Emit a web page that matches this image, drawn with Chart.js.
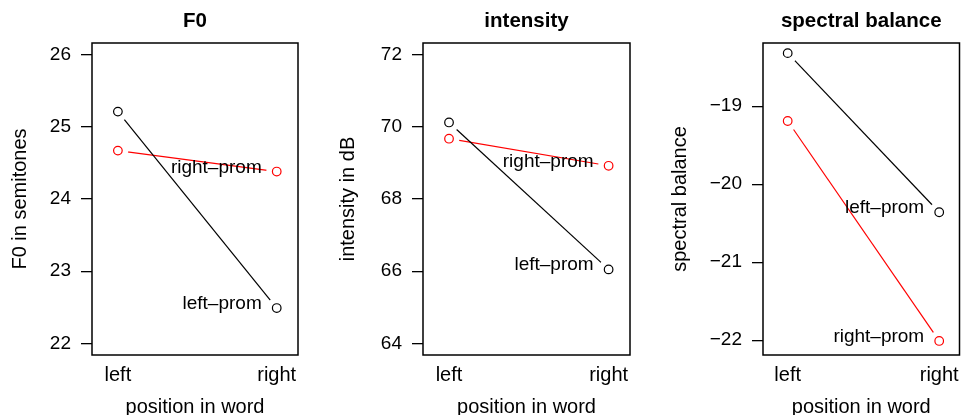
<!DOCTYPE html>
<html>
<head>
<meta charset="utf-8">
<script src="https://cdn.jsdelivr.net/npm/chart.js@4.4.1/dist/chart.umd.min.js"></script>
<style>
  html, body { margin: 0; padding: 0; background: #fff; overflow: hidden; width: 970px; height: 415px; }
  canvas { position: absolute; top: 0; }
</style>
</head>
<body>
<canvas id="f0" width="323" height="430" style="left:0px"></canvas>
<canvas id="intensity" width="324" height="430" style="left:323px"></canvas>
<canvas id="spectral" width="323" height="430" style="left:647px"></canvas>
<script>
// values
const positions = ['left', 'right'];
const groups = ['left\u2013prom', 'right\u2013prom'];
const groupColors = ['#000000', '#ff0000'];

const f0LeftProm = [25.21, 22.49];
const f0RightProm = [24.67, 24.38];
const intLeftProm = [70.12, 66.05];
const intRightProm = [69.67, 68.92];
const sbLeftProm = [-18.32, -20.36];
const sbRightProm = [-19.19, -22.01];

const f0Ticks = [22, 23, 24, 25, 26];
const intTicks = [64, 66, 68, 70, 72];
const sbTicks = [-22, -21, -20, -19];

Chart.defaults.font.family = "'Liberation Sans', Arial, sans-serif";
Chart.defaults.color = '#000';

// box round the plot region
const frame = {
    id: 'frame',
    afterDraw(chart) {
        const a = chart.chartArea;
        const ctx = chart.ctx;
        ctx.save();
        ctx.strokeStyle = '#000';
        ctx.lineWidth = 1.5;
        ctx.strokeRect(a.left, a.top, a.right - a.left, a.bottom - a.top);
        ctx.restore();
    }
};

// group names next to the right-hand points
const groupLabels = {
    id: 'groupLabels',
    afterDatasetsDraw(chart) {
        const ctx = chart.ctx;
        ctx.save();
        ctx.font = "19px 'Liberation Sans', Arial, sans-serif";
        ctx.fillStyle = '#000';
        ctx.textAlign = 'right';
        ctx.textBaseline = 'alphabetic';
        chart.data.datasets.forEach((ds, i) => {
            if (ds.role !== 'marker') return;
            const pts = chart.getDatasetMeta(i).data;
            const last = pts[pts.length - 1];
            ctx.fillText(groups[ds.group], last.x - 15, last.y + 1);
        });
        ctx.restore();
    }
};

function toPoints(values) {
    return values.map((v, i) => ({ x: i + 1, y: v }));
}

// type="b" look: line, white gap, open circle
function seriesDatasets(values, g) {
    const col = groupColors[g];
    return [
        { data: toPoints(values), role: 'line', group: g, order: 3,
          borderColor: col, borderWidth: 1.2, pointRadius: 0, showLine: true, fill: false },
        { data: toPoints(values), role: 'gap', group: g, order: 2,
          showLine: false, pointRadius: 10.5, pointBorderWidth: 0,
          pointBackgroundColor: '#fff', pointBorderColor: '#fff' },
        { data: toPoints(values), role: 'marker', group: g, order: 1,
          showLine: false, pointRadius: 4.3, pointBorderWidth: 1.2,
          pointBackgroundColor: 'rgba(0,0,0,0)', pointBorderColor: col }
    ];
}

function makePanel(id, title, yTitle, leftProm, rightProm, ticks, yMin, yMax, yWidth, yTitlePad, rightPad) {
    new Chart(document.getElementById(id), {
        type: 'scatter',
        data: {
            datasets: [...seriesDatasets(leftProm, 0), ...seriesDatasets(rightProm, 1)]
        },
        options: {
            responsive: false,
            animation: false,
            devicePixelRatio: 1,
            layout: { padding: { left: 0, right: rightPad, top: 0, bottom: 0 } },
            plugins: {
                legend: { display: false },
                tooltip: { enabled: false },
                title: {
                    display: true, text: title, fullSize: false, color: '#000',
                    font: { size: 20.5, weight: 'bold' },
                    padding: { top: 8.6, bottom: 9.8 }
                }
            },
            scales: {
                x: {
                    type: 'linear', min: 0.837, max: 2.134,
                    afterBuildTicks: s => { s.ticks = positions.map((p, i) => ({ value: i + 1 })); },
                    afterFit: s => { s.height = 75; s.paddingLeft = 0; s.paddingRight = 0; },
                    ticks: { callback: v => positions[v - 1], font: { size: 20 }, color: '#000',
                             padding: 8.4, maxRotation: 0, autoSkip: false },
                    grid: { display: false, drawTicks: false },
                    border: { display: false },
                    title: { display: true, text: 'position in word', color: '#000',
                             font: { size: 20 }, padding: { top: 0, bottom: 10.6 } }
                },
                y: {
                    type: 'linear', min: yMin, max: yMax,
                    afterBuildTicks: s => { s.ticks = ticks.map(v => ({ value: v })); },
                    afterFit: s => { s.width = yWidth; s.paddingTop = 0; s.paddingBottom = 0; },
                    ticks: { callback: v => String(v).replace('-', '\u2212'), font: { size: 19 },
                             color: '#000', padding: 10 },
                    grid: { drawOnChartArea: false, drawTicks: true, tickLength: 11,
                            color: '#000', lineWidth: 1.3 },
                    border: { display: false },
                    title: { display: true, text: yTitle, color: '#000',
                             font: { size: 20 }, padding: { top: yTitlePad, bottom: 0 } }
                }
            }
        },
        plugins: [groupLabels, frame]
    });
}

makePanel('f0', 'F0', 'F0 in semitones', f0LeftProm, f0RightProm, f0Ticks, 21.84, 26.16, 92, 8.8, 25);
makePanel('intensity', 'intensity', 'intensity in dB', intLeftProm, intRightProm, intTicks, 63.68, 72.32, 100, 13.1, 17);
makePanel('spectral', 'spectral balance', 'spectral balance', sbLeftProm, sbRightProm, sbTicks, -22.19, -18.19, 116, 21.8, 1);
</script>
</body>
</html>
